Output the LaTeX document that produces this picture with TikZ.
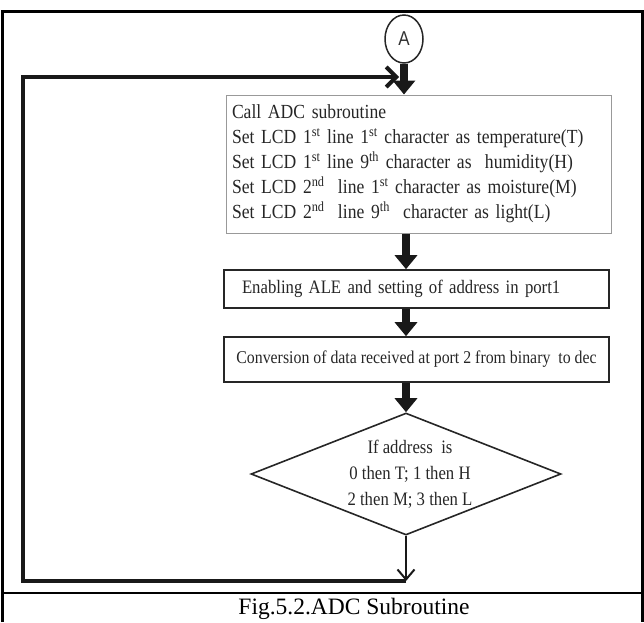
\documentclass[tikz,border=0pt]{standalone}
\usepackage{fontspec}
\setmainfont{Liberation Serif}
\newfontfamily\condserif[FakeStretch=0.88]{Liberation Serif}
\newfontfamily\labelsans[FakeStretch=0.85]{Liberation Sans}
\usetikzlibrary{shapes.geometric,arrows.meta}

\begin{document}
\begin{tikzpicture}[x=1pt,y=-1pt,
  frameline/.style={line width=3pt},
  procbox/.style={draw=black!85, line width=1.6pt, minimum width=385pt,
    inner ysep=0pt, text=black!85, font=\condserif\fontsize{19}{25}\selectfont},
  decision/.style={diamond, draw=black!85, line width=1.6pt,
    minimum width=310pt, minimum height=122pt, inner sep=0pt},
  fat/.style={line width=8pt, draw=black!90, -{Triangle[width=22pt,length=14pt]}},
  loopline/.style={line width=4pt, draw=black!90},
  loophead/.style={-{Straight Barb[length=10pt,width=20pt]}},
  thinarrow/.style={line width=2pt, draw=black!90, -{Straight Barb[length=10pt,width=17pt]}}]

\useasboundingbox (0,0) rectangle (644,622);

% outer frame and caption rule
\draw[frameline] (2,622) -- (2,11) -- (642,11) -- (642,622);
\draw[line width=2.5pt] (2,593) -- (642,593);

% entry connector
\node[ellipse, draw=black!85, line width=1.5pt, minimum width=38pt, minimum height=48pt,
  inner sep=0pt, text=black!80, font=\labelsans\fontsize{20}{20}\selectfont] (conn) at (404,39) {A};

% process boxes
\node[procbox, draw=black!40, line width=1pt, minimum height=138pt,
  text width=373pt, align=left, inner xsep=6pt, font=\condserif\fontsize{20}{25}\selectfont]
  (calladc) at (418.5,164)
  {Call ADC subroutine\\
   Set LCD 1\textsuperscript{st} line 1\textsuperscript{st} character as temperature(T)\\
   Set LCD 1\textsuperscript{st} line 9\textsuperscript{th} character as~ humidity(H)\\
   Set LCD 2\textsuperscript{nd}~ line 1\textsuperscript{st} character as moisture(M)\\
   Set LCD 2\textsuperscript{nd}~ line 9\textsuperscript{th}~ character as light(L)};

\node[procbox, minimum height=38pt, text width=349pt, align=left, inner xsep=18pt]
  (ale) at (416.5,289) {Enabling ALE and setting of address in port1};

\node[procbox, minimum height=45pt, inner xsep=6pt,
  font=\condserif\fontsize{18}{25}\selectfont]
  (conv) at (416.5,359.5) {Conversion of data received at port 2 from binary~ to dec};

% decision
\node[decision] (dia) at (406,474) {};
\node[align=center, text=black!85, font=\condserif\fontsize{19}{26}\selectfont]
  (diatext) at (410,474) {If address~ is\\0 then T; 1 then H\\2 then M; 3 then L};

% flow arrows
\draw[fat] (conn.south) -- (conn.south |- calladc.north);
\draw[fat] (calladc.south -| dia.north) -- (ale.north -| dia.north);
\draw[fat] (ale.south -| dia.north) -- (conv.north -| dia.north);
\draw[fat] (conv.south -| dia.north) -- (dia.north);

% return loop
\coordinate (bend) at (406,581);
\coordinate (loopbl) at (23,581);
\coordinate (looptl) at (23,77);
\draw[thinarrow] (dia.south) -- (bend);
\draw[loopline, loophead, shorten >=5pt] (bend) -- (loopbl) -- (looptl) -- (looptl -| conn.south);

% caption
\node[font=\fontsize{23.5}{25}\selectfont] (caption) at (354,609) {Fig.5.2.ADC Subroutine};
\end{tikzpicture}
\end{document}
